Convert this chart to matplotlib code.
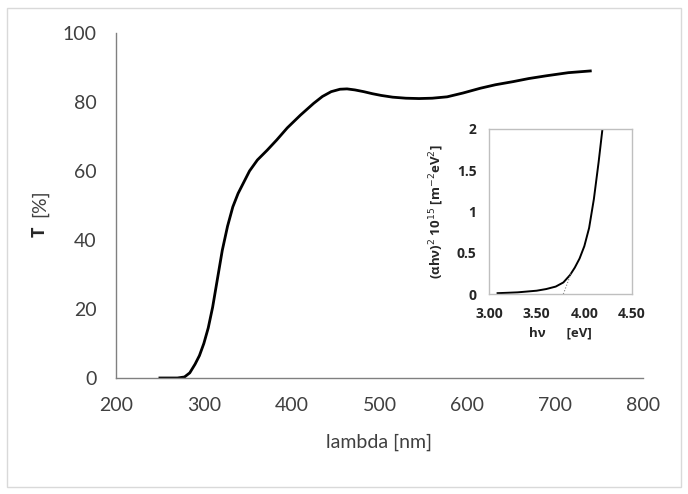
import matplotlib.pyplot as plt
from matplotlib.patches import Rectangle

# main transmittance curve
wavelength = [250, 270, 278, 284, 290, 295, 300, 305, 310, 315, 321, 327, 333, 339, 345,
              352, 361, 372, 383, 395, 410, 425, 435, 445, 455, 463, 472, 482, 492, 502,
              515, 530, 545, 560, 577, 595, 615, 632, 652, 670, 690, 715, 740]
transmittance = [0, 0, 0.3, 1.5, 4.0, 6.5, 10, 14.5, 20.5, 28, 37, 44, 49.6, 53.5, 56.5,
                 60, 63.2, 66, 69, 72.5, 76.2, 79.6, 81.6, 83.0, 83.7, 83.8, 83.5, 83.0, 82.4, 81.9,
                 81.4, 81.1, 81.0, 81.1, 81.5, 82.6, 84.0, 85.0, 85.9, 86.8, 87.6, 88.5, 89.0]

# Tauc plot (inset)
hv = [3.09, 3.2, 3.3, 3.4, 3.5, 3.6, 3.7, 3.78, 3.85, 3.9, 3.95, 4.0, 4.05, 4.1, 4.15, 4.19]
tauc = [0.01, 0.015, 0.02, 0.03, 0.04, 0.06, 0.09, 0.14, 0.23, 0.32, 0.43, 0.58, 0.8, 1.15, 1.6, 2.0]
tangent_x = [3.78, 3.86]
tangent_y = [0, 0.25]

main_xticks = [200, 300, 400, 500, 600, 700, 800]
main_yticks = [0, 20, 40, 60, 80, 100]
inset_xticks = [3.0, 3.5, 4.0, 4.5]
inset_xlabels = ["3.00", "3.50", "4.00", "4.50"]
inset_yticks = [0, 0.5, 1, 1.5, 2]
inset_ylabels = ["0", "0.5", "1", "1.5", "2"]

plt.rcParams['font.family'] = ['Lato', 'DejaVu Sans']
bold_font = ['Open Sans', 'DejaVu Sans']
txt = '#404040'

fig = plt.figure(figsize=(6.88, 4.94), dpi=100)
fig.patches.append(Rectangle((7 / 688, 1 - 487 / 494), 674 / 688, 479 / 494,
                             transform=fig.transFigure, fill=False,
                             edgecolor='#d9d9d9', linewidth=1))

ax = fig.add_axes([116 / 688, 1 - 378 / 494, 527 / 688, 345 / 494])
ax.plot(wavelength, transmittance, color='black', linewidth=2, solid_joinstyle='round')
ax.set_xlim(200, 800)
ax.set_ylim(0, 100)
ax.set_xticks(main_xticks)
ax.set_yticks(main_yticks)
ax.tick_params(length=0, labelsize=14, labelcolor=txt, pad=14)
for s in ['top', 'right']:
    ax.spines[s].set_visible(False)
for s in ['left', 'bottom']:
    ax.spines[s].set_color('#808080')
    ax.spines[s].set_linewidth(1)
ax.set_xlabel("lambda [nm]", fontsize=14, color=txt, labelpad=14)

# y label: bold T, normal [%]
fig.text(40 / 688, 1 - 232 / 494, "T", rotation=90, fontsize=13, fontweight='bold',
         family=bold_font, color='#262626', ha='center', va='center')
fig.text(40 / 688, 1 - 203 / 494, "[%]", rotation=90, fontsize=14,
         color=txt, ha='center', va='center')

# inset
ins = fig.add_axes([489 / 688, 1 - 294 / 494, 143 / 688, 165 / 494])
ins.plot(hv, tauc, color='black', linewidth=1.4, solid_joinstyle='round')
ins.plot(tangent_x, tangent_y, color='#808080', linewidth=0.8, linestyle=':')
ins.set_xlim(3.0, 4.5)
ins.set_ylim(0, 2)
ins.set_xticks(inset_xticks)
ins.set_xticklabels(inset_xlabels)
ins.set_yticks(inset_yticks)
ins.set_yticklabels(inset_ylabels)
ins.tick_params(length=0, labelsize=10, labelcolor='#262626', pad=9)
for lab in ins.get_xticklabels() + ins.get_yticklabels():
    lab.set_fontweight('bold')
    lab.set_family(bold_font)
for s in ins.spines.values():
    s.set_color('#bfbfbf')
    s.set_linewidth(1)
ins.set_xlabel("h\u03bd      [eV]", fontsize=9.5, fontweight='bold', family=bold_font,
               color='#262626', labelpad=4)
ins.set_ylabel("(\u03b1h\u03bd)$^{2}$ 10$^{15}$ [m$^{-2}$eV$^{2}$]", fontsize=9.5,
               fontweight='bold', family=bold_font, color='#262626', labelpad=8)

fig.savefig("out.png", dpi=100)
